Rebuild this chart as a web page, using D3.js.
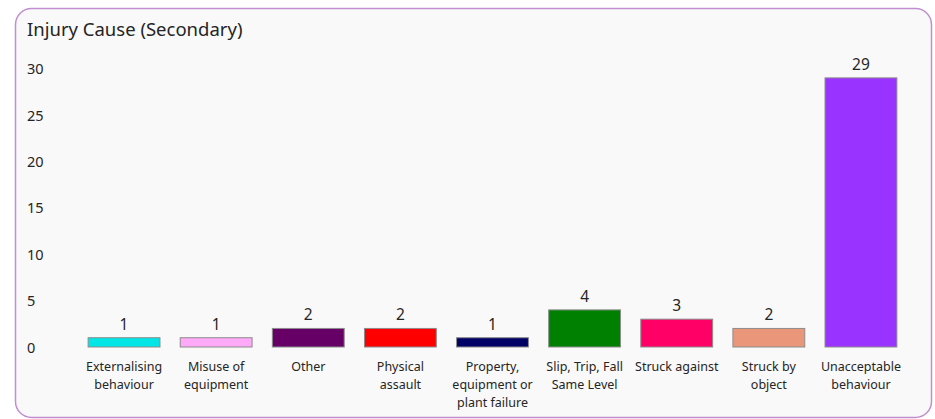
<!DOCTYPE html>
<html>
<head>
<meta charset="utf-8">
<script src="https://cdn.jsdelivr.net/npm/d3@7"></script>
<style>
html,body{margin:0;padding:0;background:#ffffff;}
svg{display:block;}
text{font-family:"Noto Sans","Open Sans",sans-serif;fill:#252525;}
</style>
</head>
<body>
<svg id="chart" width="935" height="419"></svg>
<script>
const categories = ["Externalising behaviour","Misuse of equipment","Other","Physical assault","Property, equipment or plant failure","Slip, Trip, Fall Same Level","Struck against","Struck by object","Unacceptable behaviour"];
const tickLabels = [["Externalising","behaviour"],["Misuse of","equipment"],["Other"],["Physical","assault"],["Property,","equipment or","plant failure"],["Slip, Trip, Fall","Same Level"],["Struck against"],["Struck by","object"],["Unacceptable","behaviour"]];
const values = [1,1,2,2,1,4,3,2,29];
const colors = ["#00e5e5","#ffaaf8","#660066","#ff0000","#000066","#008000","#ff0066","#e9967a","#9933ff"];
const yTicks = [0,5,10,15,20,25,30];
const title = "Injury Cause (Secondary)";

const svg = d3.select("#chart");
svg.append("rect").attr("x",15.5).attr("y",8.5).attr("width",916).attr("height",409)
  .attr("rx",16).attr("ry",16).attr("fill","#f9f9f9").attr("stroke","#c18fd0").attr("stroke-width",1.5);

svg.append("text").attr("x",27).attr("y",35.5).attr("font-size",18.5).text(title);

const x = d3.scaleBand().domain(categories).range([78,907]).paddingInner(0.22).paddingOuter(0.11);
const y = d3.scaleLinear().domain([0,30]).range([347,68.6]);

// y axis labels
const yAxis = d3.axisLeft(y).tickValues(yTicks).tickSize(0).tickPadding(0);
const yg = svg.append("g").attr("transform","translate(27,0)").call(yAxis);
yg.select(".domain").remove();
yg.selectAll("text").attr("text-anchor","start").attr("font-size",14.5)
  .attr("font-family","Noto Sans, Open Sans, sans-serif").attr("fill","#252525").attr("dy","0.35em");

// bars
svg.append("g").selectAll("rect").data(categories).join("rect")
  .attr("x",d=>x(d)).attr("y",(d,i)=>y(values[i]))
  .attr("width",x.bandwidth()).attr("height",(d,i)=>y(0)-y(values[i]))
  .attr("fill",(d,i)=>colors[i]).attr("stroke","#8c8c8c").attr("stroke-width",1);

// value labels
svg.append("g").selectAll("text").data(categories).join("text")
  .attr("x",d=>x(d)+x.bandwidth()/2).attr("y",(d,i)=>y(values[i])-8)
  .attr("text-anchor","middle").attr("font-size",15.5).text((d,i)=>values[i]);

// x axis labels
const xAxis = d3.axisBottom(x).tickSize(0).tickPadding(0).tickFormat(()=>"");
const xg = svg.append("g").attr("transform","translate(0,347)").call(xAxis);
xg.select(".domain").remove();
xg.selectAll(".tick").each(function(d,i){
  const t = d3.select(this).append("text").attr("text-anchor","middle").attr("font-size",12.5)
    .attr("fill","#252525").attr("font-family","Noto Sans, Open Sans, sans-serif");
  tickLabels[i].forEach((line,j)=>{
    t.append("tspan").attr("x",0).attr("y",24 + j*18).text(line);
  });
});
</script>
</body>
</html>
